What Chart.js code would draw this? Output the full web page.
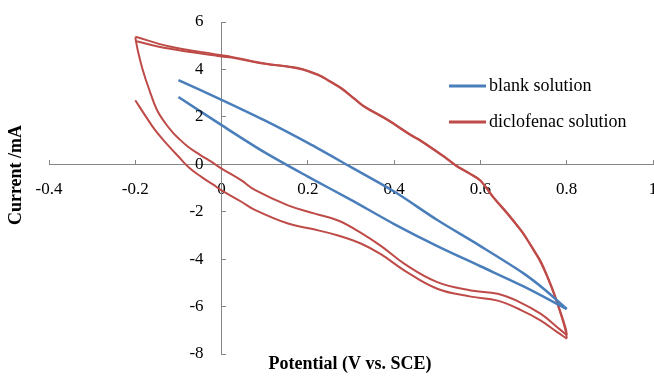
<!DOCTYPE html>
<html>
<head>
<meta charset="utf-8">
<script src="https://cdn.jsdelivr.net/npm/chart.js@4.4.1/dist/chart.umd.min.js"></script>
<style>
  body { margin: 0; background: #fff; }
  .chart-box { position: relative; width: 654px; height: 376px; }
</style>
</head>
<body>
<div class="chart-box"><canvas id="cv-chart"></canvas></div>
<script>
// ---- data ----
const xTicks = [-0.4, -0.2, 0, 0.2, 0.4, 0.6, 0.8, 1];
const yTicks = [-8, -6, -4, -2, 0, 2, 4, 6];

// blank: forward branch to 0.8 V, then back
const blankFwdV = [-0.1, 0, 0.1, 0.2, 0.3, 0.4, 0.5, 0.6, 0.7, 0.8];
const blankFwdI = [2.84, 1.65, 0.5, -0.52, -1.5, -2.52, -3.45, -4.3, -5.15, -6.1];
const blankRevV = [0.8, 0.75, 0.7, 0.6, 0.5, 0.4, 0.3, 0.2, 0.1, 0, -0.1];
const blankRevI = [-6.1, -5.3, -4.6, -3.45, -2.35, -1.15, -0.12, 0.9, 1.85, 2.72, 3.55];

// diclofenac: two cycles, four sweeps
const sweep1V = [-0.2, -0.175, -0.154, -0.125, -0.1, -0.075, -0.046, -0.02, 0, 0.046, 0.077, 0.154, 0.208, 0.27, 0.324, 0.37, 0.424, 0.5, 0.578, 0.64, 0.694, 0.74, 0.778, 0.8];
const sweep1I = [2.7, 2.0, 1.44, 0.82, 0.33, -0.15, -0.54, -0.85, -1.1, -1.58, -1.92, -2.5, -2.72, -3.0, -3.35, -3.8, -4.48, -5.25, -5.58, -5.75, -6.15, -6.59, -7.08, -7.35];

const sweep2V = [0.8, 0.798, 0.785, 0.771, 0.755, 0.74, 0.724, 0.709, 0.694, 0.663, 0.632, 0.6, 0.575, 0.547, 0.516, 0.462, 0.439, 0.385, 0.331, 0.308, 0.277, 0.25, 0.224, 0.177, 0.1, 0.023, 0, -0.123, -0.2];
const sweep2I = [-7.35, -7.05, -6.25, -5.5, -4.75, -4.15, -3.65, -3.2, -2.8, -2.1, -1.45, -0.7, -0.4, -0.11, 0.31, 0.98, 1.22, 1.86, 2.42, 2.75, 3.2, 3.5, 3.76, 4.04, 4.25, 4.53, 4.6, 4.98, 5.38];

const sweep3V = [-0.2, -0.193, -0.183, -0.17, -0.15, -0.131, -0.115, -0.1, -0.077, -0.05, -0.023, 0, 0.046, 0.077, 0.154, 0.216, 0.27, 0.324, 0.37, 0.424, 0.5, 0.578, 0.64, 0.686, 0.74, 0.778, 0.8];
const sweep3I = [5.35, 4.7, 4.0, 3.27, 2.3, 1.75, 1.38, 1.1, 0.73, 0.4, 0.1, -0.18, -0.68, -1.08, -1.73, -2.08, -2.37, -2.9, -3.45, -4.2, -4.97, -5.32, -5.46, -5.77, -6.31, -6.87, -7.2];

const sweep4V = [0.8, 0.798, 0.785, 0.771, 0.755, 0.74, 0.724, 0.709, 0.694, 0.663, 0.632, 0.6, 0.575, 0.547, 0.516, 0.462, 0.439, 0.385, 0.331, 0.308, 0.277, 0.25, 0.224, 0.177, 0.1, 0.023, 0, -0.123, -0.2];
const sweep4I = [-7.2, -6.95, -6.2, -5.45, -4.72, -4.1, -3.62, -3.18, -2.78, -2.07, -1.43, -0.68, -0.38, -0.09, 0.33, 1.0, 1.24, 1.88, 2.44, 2.77, 3.22, 3.52, 3.78, 4.06, 4.24, 4.5, 4.55, 4.88, 5.2];

const BLUE = '#4a7ebb';
const RED = '#be4b48';
const AXIS = '#868686';
const SERIF = '"Liberation Serif", "Times New Roman", serif';

function toPoints(xs, ys) {
  return xs.map((x, i) => ({ x, y: ys[i] }));
}

// each sweep is its own dataset so the turning points stay sharp
function sweep(label, xs, ys, color, width, tension) {
  return {
    label,
    data: toPoints(xs, ys),
    showLine: true,
    borderColor: color,
    borderWidth: width,
    pointRadius: 0,
    tension,
  };
}

// axis titles, y labels and legend drawn where Excel put them
const decorations = {
  id: 'decorations',
  afterDraw(chart) {
    const ctx = chart.ctx;
    const { x: xs, y: ys } = chart.scales;

    ctx.save();
    ctx.fillStyle = '#000';
    ctx.font = '17px ' + SERIF;
    ctx.textAlign = 'right';
    ctx.textBaseline = 'middle';
    const labelRight = xs.getPixelForValue(0) - 18;
    yTicks.forEach((v) => ctx.fillText(String(v), labelRight, ys.getPixelForValue(v)));

    ctx.font = 'bold 18px ' + SERIF;
    ctx.textAlign = 'center';
    ctx.fillText('Potential (V vs. SCE)', 350, 364);
    ctx.translate(16, 175);
    ctx.rotate(-Math.PI / 2);
    ctx.fillText('Current /mA', 0, 0);
    ctx.restore();

    ctx.save();
    ctx.font = '18px ' + SERIF;
    ctx.textAlign = 'left';
    ctx.textBaseline = 'middle';
    chart.data.datasets
      .filter((ds) => ds.label)
      .forEach((ds, i) => {
        const y = 86 + i * 36;
        ctx.strokeStyle = ds.borderColor;
        ctx.lineWidth = 3;
        ctx.beginPath();
        ctx.moveTo(449, y);
        ctx.lineTo(486, y);
        ctx.stroke();
        ctx.fillStyle = '#000';
        ctx.fillText(ds.label, 489, y);
      });
    ctx.restore();
  },
};

const noEdgePadding = (scale) => {
  scale.paddingLeft = 0;
  scale.paddingRight = 0;
  scale.paddingTop = 0;
  scale.paddingBottom = 0;
};

new Chart(document.getElementById('cv-chart'), {
  type: 'scatter',
  data: {
    datasets: [
      sweep('blank solution', blankFwdV, blankFwdI, BLUE, 2.5, 0.3),
      sweep('', blankRevV, blankRevI, BLUE, 2.5, 0.3),
      sweep('diclofenac solution', sweep1V, sweep1I, RED, 2, 0.4),
      sweep('', sweep2V, sweep2I, RED, 2, 0.4),
      sweep('', sweep3V, sweep3I, RED, 2, 0.4),
      sweep('', sweep4V, sweep4I, RED, 2, 0.4),
    ],
  },
  options: {
    responsive: true,
    maintainAspectRatio: false,
    animation: false,
    layout: { padding: { left: 49, right: 1, top: 22, bottom: 22 } },
    plugins: { legend: { display: false }, tooltip: { enabled: false } },
    scales: {
      x: {
        type: 'linear',
        position: { y: 0 },
        min: -0.4,
        max: 1,
        afterBuildTicks: (scale) => { scale.ticks = xTicks.map((v) => ({ value: v })); },
        afterFit: noEdgePadding,
        ticks: {
          padding: 20,
          color: '#000',
          font: { family: SERIF, size: 17 },
          callback: (v) => String(Math.round(v * 10) / 10),
        },
        grid: { drawOnChartArea: false, tickLength: -5, color: AXIS },
        border: { color: AXIS },
      },
      y: {
        type: 'linear',
        position: { x: 0 },
        min: -8,
        max: 6,
        afterBuildTicks: (scale) => { scale.ticks = yTicks.map((v) => ({ value: v })); },
        afterFit: noEdgePadding,
        ticks: { display: false },
        grid: { drawOnChartArea: false, tickLength: -5, color: AXIS },
        border: { color: AXIS },
      },
    },
  },
  plugins: [decorations],
});
</script>
</body>
</html>
